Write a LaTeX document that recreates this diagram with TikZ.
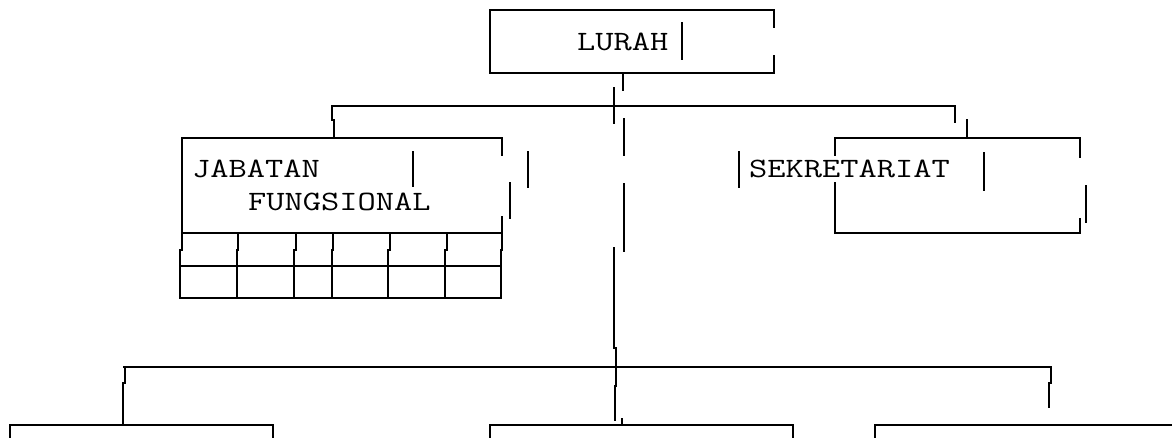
\documentclass[tikz,border=0pt]{standalone}
\usepackage{fontspec}
\begin{document}
\begin{tikzpicture}[x=1pt,y=-1pt,
  ln/.style={line width=2pt,line cap=rect},
  lbl/.style={font=\ttfamily\fontsize{28}{28}\selectfont,anchor=base west,inner sep=0pt}]
\newcommand{\wide}[1]{\scalebox{1.265}[1]{#1}}
\useasboundingbox (0,0) rectangle (1172,437);
\clip (0,0) rectangle (1172,437);
% LURAH box
\draw[ln] (490,10) -- (774,10);
\draw[ln] (490,10) -- (490,73) -- (774,73);
\draw[ln] (774,10) -- (774,27);
\draw[ln] (774,56) -- (774,73);
\node[lbl] (lurah) at (577,50) {\wide{LURAH}};
\draw[ln] (682,23) -- (682,59);
% centre line
\draw[ln] (623,73) -- (623,90);
\draw[ln] (614,88) -- (614,123);
\draw[ln] (624,119) -- (624,155);
\draw[ln] (624,184) -- (624,251);
\draw[ln] (614,248) -- (614,348) -- (616,348) -- (616,386) -- (615,386) -- (615,420);
\draw[ln] (622,419) -- (622,425);
% upper horizontal
\draw[ln] (332,106) -- (955,106);
\draw[ln] (332,106) -- (332,120) -- (333.5,120) -- (333.5,138);
\draw[ln] (955,106) -- (955,122);
\draw[ln] (967,120) -- (967,138);
% JABATAN box
\draw[ln] (182,138) -- (502,138);
\draw[ln] (182,138) -- (182,250) -- (180,250) -- (180,298);
\draw[ln] (502,138) -- (502,155);
\draw[ln] (510,183) -- (510,218);
\draw[ln] (502,217) -- (502,250) -- (501,250) -- (501,298);
\draw[ln] (528,152) -- (528,187);
\draw[ln] (413,152) -- (413,186);
\node[lbl] (jab) at (192,177) {\wide{JABATAN}};
\node[lbl] (fung) at (248,210) {\wide{FUNGSIONAL}};
\draw[ln] (182,233) -- (502,233);
\draw[ln] (180,266) -- (501,266);
\draw[ln] (180,298) -- (501,298);
\foreach \a/\b in {238/237,296/294,333/332,390/388,447/445}
  \draw[ln] (\a,233) -- (\a,250) -- (\b,250) -- (\b,298);
% SEKRETARIAT box
\draw[ln] (835,138) -- (1080,138);
\draw[ln] (835,138) -- (835,155);
\draw[ln] (835,183) -- (835,233) -- (1080,233);
\draw[ln] (1080,138) -- (1080,157);
\draw[ln] (1086,186) -- (1086,222);
\draw[ln] (1080,219) -- (1080,233);
\draw[ln] (739,152) -- (739,187);
\draw[ln] (984,153) -- (984,190);
\node[lbl] (sek) at (749,177) {\wide{SEKRETARIAT}};
% lower horizontal
\draw[ln] (124,367) -- (1051,367);
\draw[ln] (125,367) -- (125,383) -- (123,383) -- (123,425);
\draw[ln] (1051,367) -- (1051,383) -- (1049,383) -- (1049,407);
% bottom boxes
\draw[ln] (10,440) -- (10,425) -- (273,425) -- (273,440);
\draw[ln] (490,440) -- (490,425) -- (793,425) -- (793,440);
\draw[ln] (875,440) -- (875,425) -- (1175,425);
\end{tikzpicture}
\end{document}
